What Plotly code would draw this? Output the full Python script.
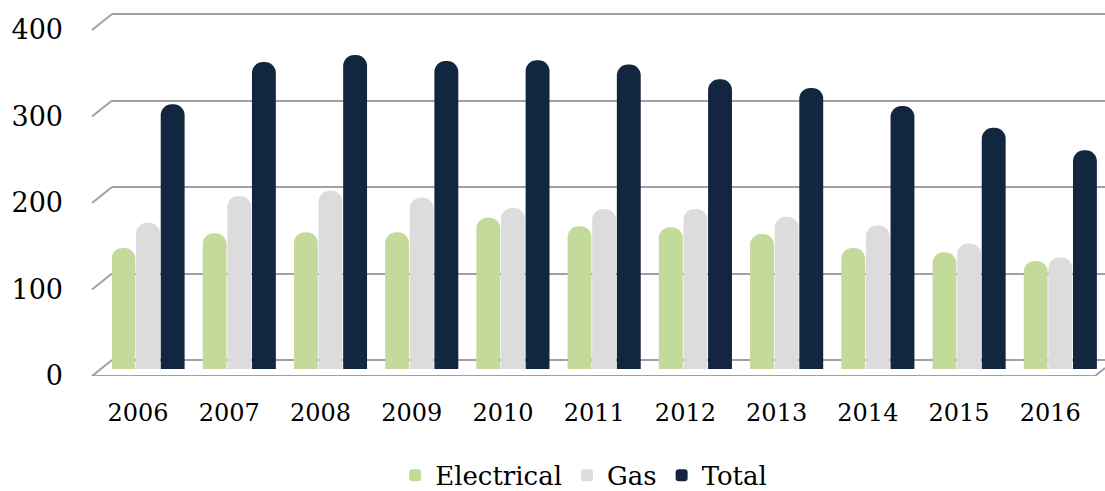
import plotly.graph_objects as go

years = ["2006", "2007", "2008", "2009", "2010", "2011", "2012", "2013", "2014", "2015", "2016"]
electrical = [140, 157, 158, 158, 175, 165, 164, 156, 140, 135, 125]
gas = [169, 200, 206, 198, 186, 185, 185, 176, 166, 145, 129]
total = [306, 355, 363, 356, 357, 352, 335, 325, 304, 279, 253]
y_ticks = [0, 100, 200, 300, 400]

colors = {"Electrical": "#C4DA9A", "Gas": "#DCDCDC", "Total": "#13263F"}
series = {"Electrical": electrical, "Gas": gas, "Total": total}

FONT = "DejaVu Serif"
W, H = 1105, 491
ML, MT, MB = 112, 12, 115
plot_h = H - MT - MB
px_per_unit = (360 - 14) / 400  # back wall scale
grid_top = 400 + (14 - MT) / px_per_unit
grid_bottom = -(plot_h - (360 - MT)) / px_per_unit
BAR_ZERO_PX = 369
bar_bottom = -(plot_h - (BAR_ZERO_PX - MT)) / px_per_unit
bar_top = (BAR_ZERO_PX - MT) / px_per_unit

fig = go.Figure()
for name, vals in series.items():
    fig.add_trace(go.Bar(
        x=years, y=vals, name=name, yaxis="y2",
        marker=dict(color=colors[name], line=dict(width=0)),
    ))

grid_color = "#A0A0A0"
fig.update_layout(
    width=W, height=H,
    margin=dict(l=ML, r=0, t=MT, b=MB),
    paper_bgcolor="white", plot_bgcolor="white",
    barmode="group", bargap=0.19, bargroupgap=0.03,
    barcornerradius="50%",
    font=dict(family=FONT, color="black"),
    xaxis=dict(
        range=[-0.395, 10.49], showgrid=False, zeroline=False, showline=False,
        ticks="", tickfont=dict(size=24, family=FONT),
        ticklabelshift=-10, ticklabelstandoff=20,
    ),
    yaxis=dict(
        range=[grid_bottom, grid_top], tickvals=y_ticks, showgrid=True,
        gridcolor=grid_color, gridwidth=2, zeroline=False, showline=False,
        ticks="", tickfont=dict(size=27, family=FONT),
        ticklabelshift=16, ticklabelstandoff=48,
    ),
    yaxis2=dict(
        range=[bar_bottom, bar_top], overlaying="y", visible=False,
    ),
    legend=dict(
        orientation="h", xref="paper", x=0.475, xanchor="center",
        yref="container", y=0.032, yanchor="middle",
        font=dict(size=26, family=FONT), itemwidth=30,
        traceorder="normal",
    ),
    showlegend=True,
)

# perspective side edges of the back-wall gridlines
for v in y_ticks:
    fig.add_shape(
        type="line", xref="paper", xsizemode="pixel", xanchor=0, x0=-20, x1=0,
        yref="y", ysizemode="pixel", yanchor=v, y0=-16, y1=0,
        line=dict(color=grid_color, width=2), layer="below",
    )
# floor front edge and right side edge
fig.add_shape(
    type="line", xref="paper", xsizemode="pixel", xanchor=0, x0=-20, x1=983,
    yref="y", ysizemode="pixel", yanchor=0, y0=-16, y1=-16,
    line=dict(color=grid_color, width=2), layer="below",
)
fig.add_shape(
    type="line", xref="paper", xsizemode="pixel", xanchor=1, x0=-10, x1=0,
    yref="y", ysizemode="pixel", yanchor=0, y0=-16, y1=-8,
    line=dict(color=grid_color, width=2), layer="below",
)

fig.write_html("out.html", config={"displayModeBar": False},
               post_script="document.body.style.margin='0';")
